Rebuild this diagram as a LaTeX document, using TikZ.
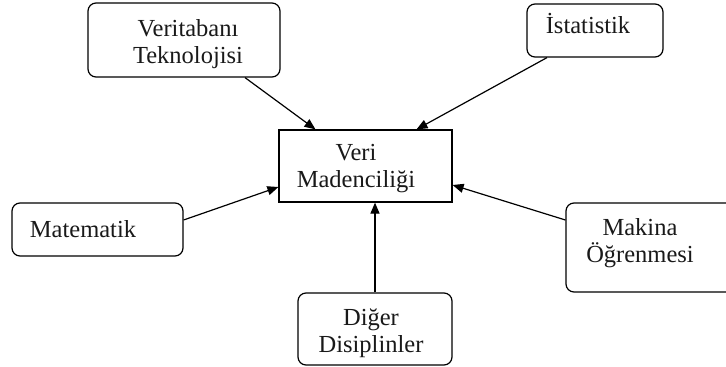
\documentclass[tikz,border=0pt]{standalone}
\usepackage{fontspec}
\setmainfont{Liberation Serif}
\usetikzlibrary{arrows.meta,calc}
\begin{document}
\begin{tikzpicture}[x=1pt,y=-1pt,
  rbox/.style={draw=black,line width=1.2pt,rounded corners=8pt,inner sep=0pt},
  cbox/.style={draw=black,line width=1.2pt,inner sep=0pt},
  lbl/.style={font=\fontsize{24.5}{27}\selectfont,align=center,anchor=base,inner sep=0pt,text=black!90},
  conn/.style={line width=1.2pt,-{Triangle[length=11pt,width=9pt]}}]
\useasboundingbox (0,0) rectangle (726,367);
\begin{scope}
\clip (0,0) rectangle (726,367);
\node[rbox,minimum width=192pt,minimum height=74pt] (vt) at (184,40) {};
\node[rbox,minimum width=136pt,minimum height=53pt] (is) at (595,30.5) {};
\node[cbox,minimum width=173pt,minimum height=72pt] (vm) at (365.5,166) {};
\node[rbox,minimum width=171pt,minimum height=53pt] (mt) at (97.5,229.5) {};
\node[rbox,minimum width=170pt,minimum height=89pt] (mk) at (651,247.5) {};
\node[rbox,minimum width=154pt,minimum height=72pt] (dg) at (375,329) {};
\end{scope}
\node[lbl] (vtt) at (188,63) {Veritabanı\\Teknolojisi};
\node[lbl] (ist) at (588,33) {İstatistik};
\node[lbl] (vmt) at (356,187) {Veri\\Madenciliği};
\node[lbl] (mtt) at (83,237) {Matematik};
\node[lbl] (mkt) at (640,262) {Makina\\Öğrenmesi};
\node[lbl] (dgt) at (371,352) {Diğer\\Disiplinler};
\draw[conn] ($(vt.south)+(61,0)$) -- ($(vm.north)+(-50,0)$);
\draw[conn] ($(is.south)+(-48,0)$) -- ($(vm.north)+(51,0)$);
\draw[conn] ($(mt.east)+(0,-9.5)$) -- ($(vm.west)+(0,21)$);
\draw[conn] ($(mk.west)+(0,-27.5)$) -- ($(vm.east)+(0,19)$);
\draw[conn] (dg.north) -- ($(vm.south)+(9.5,0)$);
\end{tikzpicture}
\end{document}
